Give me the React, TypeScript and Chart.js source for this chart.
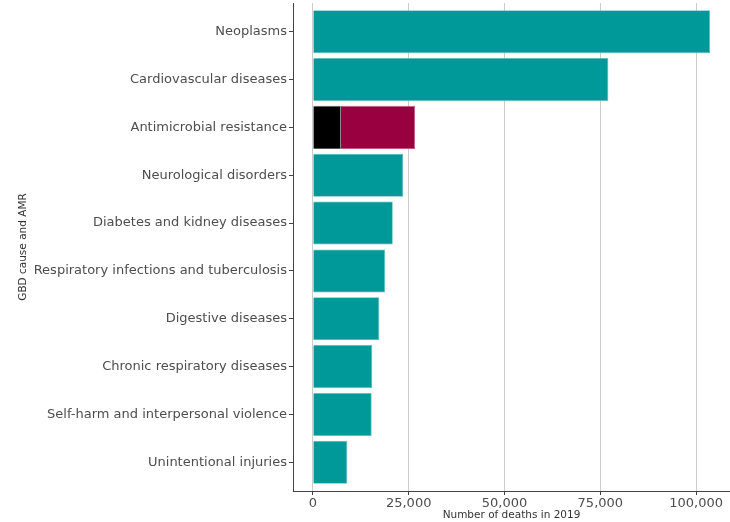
import React, { useEffect, useRef } from "react";
import { Chart, registerables } from "chart.js";

Chart.register(...registerables);

const categories = [
  "Neoplasms",
  "Cardiovascular diseases",
  "Antimicrobial resistance",
  "Neurological disorders",
  "Diabetes and kidney diseases",
  "Respiratory infections and tuberculosis",
  "Digestive diseases",
  "Chronic respiratory diseases",
  "Self-harm and interpersonal violence",
  "Unintentional injuries",
];

// GBD cause deaths (AMR row drawn by the two AMR series)
const gbdDeaths: (number | null)[] = [103650, 77100, null, 23600, 20850, 18850, 17350, 15500, 15350, 9000];
// AMR: attributable (black) and the rest of associated (maroon)
const amrAttributable = 7300;
const amrAssociatedRest = 19350;
const amrIndex = 2;

const xTicks = [0, 25000, 50000, 75000, 100000];
const xMin = -5180;
const xMax = 108830;

const FONT = "'DejaVu Sans', sans-serif";

export default function App() {
  const ref = useRef<HTMLCanvasElement | null>(null);

  useEffect(() => {
    if (!ref.current) return;
    const teal = gbdDeaths
      .map((v, i) => (v === null ? null : { x: v, y: i }))
      .filter((d) => d !== null);
    const chart = new Chart(ref.current, {
      type: "bar",
      data: {
        datasets: [
          {
            label: "GBD cause",
            data: teal as any,
            backgroundColor: "#009999",
            borderColor: "#5cbdbd",
            borderWidth: 0.8,
          },
          {
            label: "AMR attributable",
            data: [{ x: amrAttributable, y: amrIndex }] as any,
            backgroundColor: "#000000",
            borderColor: "#555555",
            borderWidth: 0.8,
          },
          {
            label: "AMR associated",
            data: [{ x: amrAssociatedRest, y: amrIndex }] as any,
            backgroundColor: "#990040",
            borderColor: "#c25a80",
            borderWidth: 0.8,
          },
        ],
      },
      options: {
        indexAxis: "y",
        animation: false,
        responsive: false,
        layout: { padding: { top: 3, right: 0, left: 0, bottom: 0 } },
        datasets: { bar: { categoryPercentage: 1, barPercentage: 0.9 } },
        plugins: { legend: { display: false }, tooltip: { enabled: false } },
        scales: {
          x: {
            type: "linear",
            stacked: true,
            offset: false,
            min: xMin,
            max: xMax,
            afterBuildTicks: (s: any) => {
              s.ticks = xTicks.map((v) => ({ value: v }));
            },
            afterFit: (s: any) => {
              s.height = 31;
              s.paddingLeft = 0;
              s.paddingRight = 0;
            },
            ticks: {
              padding: 1,
              color: "#4d4d4d",
              font: { family: FONT, size: 13 },
              callback: (v: any) => Number(v).toLocaleString("en-US"),
            },
            grid: {
              offset: false,
              color: "#cccccc",
              lineWidth: 1,
              drawTicks: true,
              tickLength: 4,
              tickColor: "#444444",
            },
            border: { display: true, color: "#444444", width: 1 },
            title: {
              display: true,
              text: "Number of deaths in 2019",
              color: "#333333",
              font: { family: FONT, size: 10.5 },
              padding: { top: 0, bottom: 0 },
            },
          },
          y: {
            type: "linear",
            stacked: true,
            reverse: true,
            offset: false,
            min: -0.6,
            max: 9.6,
            afterBuildTicks: (s: any) => {
              s.ticks = categories.map((_, i) => ({ value: i }));
            },
            afterFit: (s: any) => {
              s.width = 293;
              s.paddingTop = 0;
              s.paddingBottom = 0;
            },
            ticks: {
              autoSkip: false,
              padding: 2,
              color: "#4d4d4d",
              font: { family: FONT, size: 13 },
              callback: (v: any) => categories[Number(v)] ?? "",
            },
            grid: {
              offset: false,
              drawOnChartArea: false,
              drawTicks: true,
              tickLength: 4,
              tickColor: "#444444",
            },
            border: { display: true, color: "#444444", width: 1 },
            title: {
              display: true,
              text: "GBD cause and AMR",
              color: "#333333",
              font: { family: FONT, size: 10.5 },
              padding: { top: 16.5, bottom: 0 },
            },
          },
        },
      },
    });
    return () => chart.destroy();
  }, []);

  return (
    <div style={{ position: "fixed", left: 0, top: 0, width: 730, height: 522, background: "#ffffff" }}>
      <canvas ref={ref} width={730} height={522} style={{ display: "block" }} />
    </div>
  );
}
